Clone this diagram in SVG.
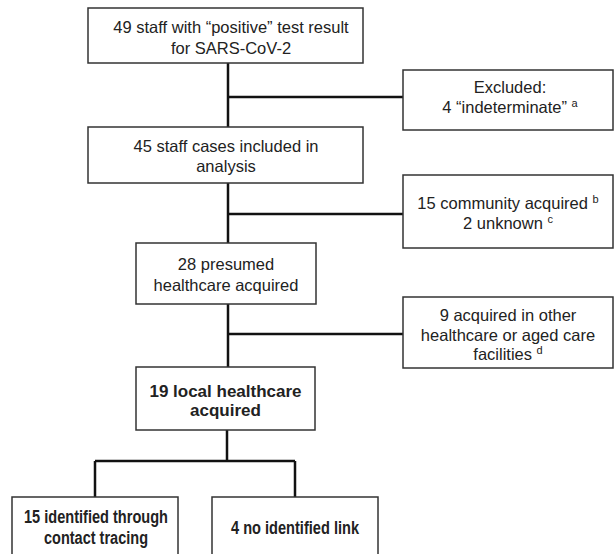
<svg xmlns="http://www.w3.org/2000/svg" width="615" height="554" viewBox="0 0 615 554">
<style>
.box{fill:#fff;stroke:#333;stroke-width:1.5}
.t{font-family:"Liberation Sans",Arial,sans-serif;font-size:16.5px;fill:#222;text-anchor:middle}
.b{font-weight:bold;font-size:17px}
.bb{font-size:18px}
.sup{font-size:11px}
.c{stroke:#111;stroke-width:2.5;fill:none}
</style>
<rect width="615" height="554" fill="#fff"/>
<g id="connectors">
<path class="c" d="M228 63V127M228 183V243M228 304V367M228 97H403M228 214H403M228 334H403"/>
<path class="c" d="M227 430V461M95 461H295M95 461V497M295 461V497"/>
</g>
<g id="n1"><rect class="box" x="88" y="8" width="275" height="55"/>
<text class="t" x="231" y="33">49 staff with “positive” test result</text>
<text class="t" x="231" y="54">for SARS-CoV-2</text></g>
<g id="n2"><rect class="box" x="403" y="70" width="210" height="60"/>
<text class="t" x="510" y="93">Excluded:</text>
<text class="t" x="510" y="113">4 “indeterminate” <tspan class="sup" dy="-6">a</tspan></text></g>
<g id="n3"><rect class="box" x="88" y="127" width="275" height="56"/>
<text class="t" x="226" y="152">45 staff cases included in</text>
<text class="t" x="226" y="172">analysis</text></g>
<g id="n4"><rect class="box" x="403" y="175" width="210" height="73"/>
<text class="t" x="508" y="209">15 community acquired <tspan class="sup" dy="-6">b</tspan></text>
<text class="t" x="508" y="229">2 unknown <tspan class="sup" dy="-6">c</tspan></text></g>
<g id="n5"><rect class="box" x="136" y="243" width="180" height="61"/>
<text class="t" x="226" y="270">28 presumed</text>
<text class="t" x="226" y="291">healthcare acquired</text></g>
<g id="n6"><rect class="box" x="403" y="297" width="210" height="71"/>
<text class="t" x="508" y="321">9 acquired in other</text>
<text class="t" x="508" y="341">healthcare or aged care</text>
<text class="t" x="508" y="360">facilities <tspan class="sup" dy="-6">d</tspan></text></g>
<g id="n7"><rect class="box" x="136" y="367" width="179" height="63"/>
<text class="t b" x="225.5" y="397">19 local healthcare</text>
<text class="t b" x="225.5" y="416">acquired</text></g>
<g id="n8"><rect class="box" x="12" y="497" width="166" height="70"/>
<text class="t b bb" x="96" y="523" textLength="144" lengthAdjust="spacingAndGlyphs">15 identified through</text>
<text class="t b bb" x="96" y="544" textLength="104" lengthAdjust="spacingAndGlyphs">contact tracing</text></g>
<g id="n9"><rect class="box" x="212" y="497" width="166" height="70"/>
<text class="t b bb" x="295" y="534" textLength="128" lengthAdjust="spacingAndGlyphs">4 no identified link</text></g>
</svg>
